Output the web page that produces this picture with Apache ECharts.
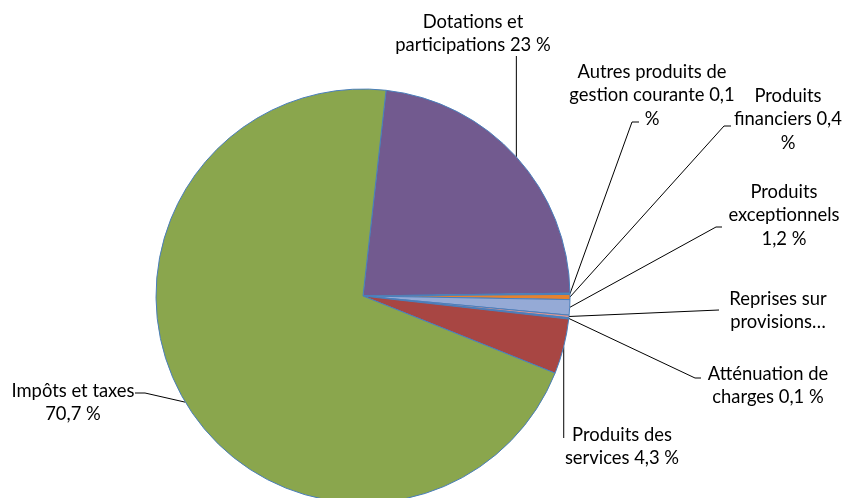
<!DOCTYPE html>
<html lang="fr">
<head>
  <meta charset="UTF-8">
  <title>Recettes de fonctionnement</title>
  <style>
    * {
      padding: 0;
      margin: 0;
    }

    #chart {
      width: 845px;
      height: 498px;
      background: #fff;
    }
  </style>
</head>
<body>
  <div id="chart"></div>

  <script src="https://cdn.jsdelivr.net/npm/echarts@6/dist/echarts.min.js"></script>
  <script>
    const names = [
      'Dotations et participations',
      'Autres produits de gestion courante',
      'Produits financiers',
      'Produits exceptionnels',
      'Reprises sur provisions',
      'Atténuation de charges',
      'Produits des services',
      'Impôts et taxes'
    ];
    const values = [23, 0.1, 0.4, 1.2, 0.2, 0.1, 4.3, 70.7];
    const labelFormats = [
      'Dotations et\nparticipations {v} %',
      'Autres produits de\ngestion courante {v}\n%',
      'Produits\nfinanciers {v}\n%',
      'Produits\nexceptionnels\n{v} %',
      'Reprises sur\nprovisions…',
      'Atténuation de\ncharges {v} %',
      'Produits des\nservices {v} %',
      'Impôts et taxes\n{v} %'
    ];
    const colors = ['#725a8f', '#4aa3bb', '#e5822f', '#95aad6', '#da9694', '#4a7ebb', '#a84643', '#8aa64d'];

    // where each label sits (x = centre of the text, y = top) and how its leader line ends
    const labelPos = [
      { x: 473, y: 10, line: 'down' },
      { x: 652, y: 60, elbow: [632, 122], end: [639, 122] },
      { x: 788, y: 84, elbow: [724, 126], end: [731, 126] },
      { x: 784, y: 180, elbow: [716, 227], end: [722, 227] },
      { x: 778, y: 287, elbow: [719, 310], end: [719, 310] },
      { x: 768, y: 362, elbow: [695, 378], end: [701, 378] },
      { x: 622, y: 423, line: 'down', stop: 438 },
      { x: 73, y: 379, elbow: [145, 393], end: [135, 393] }
    ];

    const chart = echarts.init(document.getElementById('chart'));

    chart.setOption({
      animation: false,
      textStyle: { fontFamily: 'Lato' },
      series: [
        {
          type: 'pie',
          center: [363, 296],
          radius: 207,
          startAngle: 83.6,
          clockwise: true,
          avoidLabelOverlap: false,
          data: names.map((name, i) => ({
            name: name,
            value: values[i],
            itemStyle: { color: colors[i] }
          })),
          itemStyle: {
            borderColor: '#4a7ebb',
            borderWidth: 1
          },
          label: {
            show: true,
            color: '#000',
            fontSize: 18.4,
            lineHeight: 23.5,
            fontFamily: 'Lato',
            formatter: p => labelFormats[p.dataIndex].replace('{v}', String(p.value).replace('.', ','))
          },
          labelLine: {
            show: true,
            length: 10,
            length2: 6,
            lineStyle: { color: '#000', width: 1 }
          },
          emphasis: { disabled: true },
          labelLayout: function (params) {
            const pos = labelPos[params.dataIndex];
            const start = params.labelLinePoints[0];
            let points;
            if (pos.line === 'down') {
              const stop = pos.stop || pos.y + params.labelRect.height - 1;
              points = [start, [start[0], stop], [start[0], stop]];
            } else {
              points = [start, pos.elbow, pos.end];
            }
            return {
              x: pos.x,
              y: pos.y,
              align: 'center',
              verticalAlign: 'top',
              labelLinePoints: points
            };
          }
        }
      ]
    });
  </script>
</body>
</html>
